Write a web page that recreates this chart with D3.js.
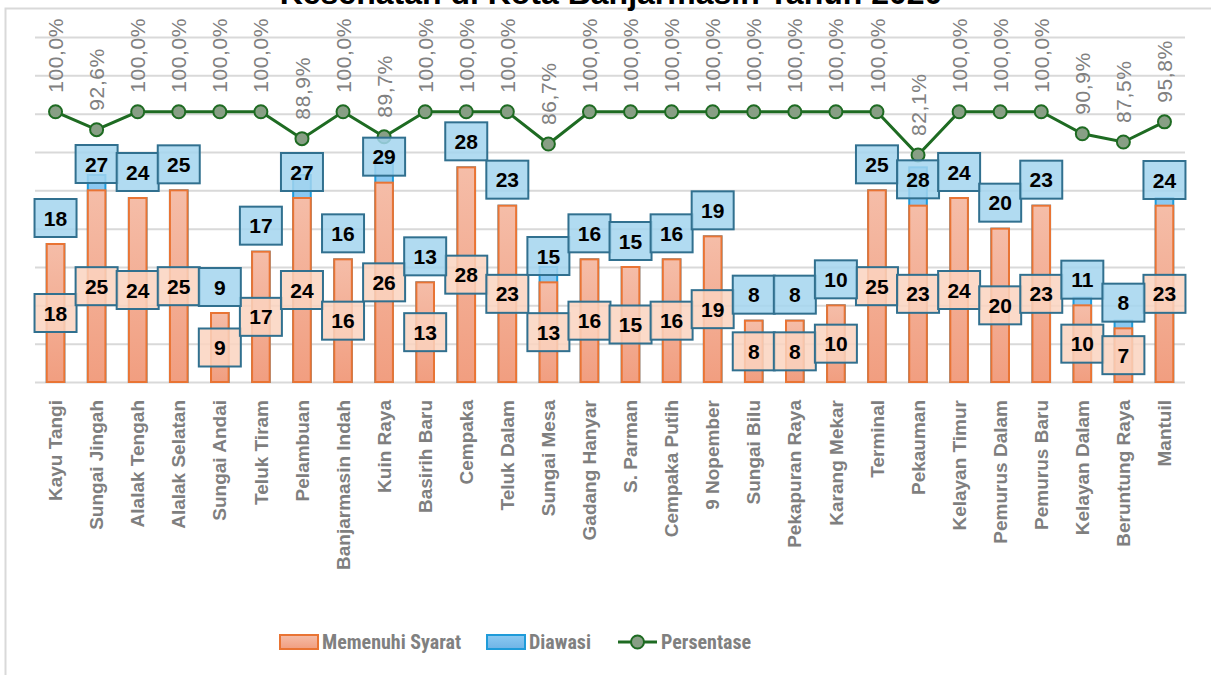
<!DOCTYPE html>
<html>
<head>
<meta charset="utf-8">
<script src="https://cdn.jsdelivr.net/npm/d3@7"></script>
<style>
  body { margin: 0; background: #fff; }
  svg { display: block; }
</style>
</head>
<body>
<svg width="1211" height="675"></svg>
<script>

let categories = ['Kayu Tangi', 'Sungai Jingah', 'Alalak Tengah', 'Alalak Selatan', 'Sungai Andai',
  'Teluk Tiram', 'Pelambuan', 'Banjarmasin Indah', 'Kuin Raya', 'Basirih Baru', 'Cempaka',
  'Teluk Dalam', 'Sungai Mesa', 'Gadang Hanyar', 'S. Parman', 'Cempaka Putih', '9 Nopember',
  'Sungai Bilu', 'Pekapuran Raya', 'Karang Mekar', 'Terminal', 'Pekauman', 'Kelayan Timur',
  'Pemurus Dalam', 'Pemurus Baru', 'Kelayan Dalam', 'Beruntung Raya', 'Mantuil'];

let memenuhiSyarat = [18, 25, 24, 25, 9, 17, 24, 16, 26, 13, 28, 23, 13, 16, 15, 16, 19,
  8, 8, 10, 25, 23, 24, 20, 23, 10, 7, 23];

let diawasi = [18, 27, 24, 25, 9, 17, 27, 16, 29, 13, 28, 23, 15, 16, 15, 16, 19,
  8, 8, 10, 25, 28, 24, 20, 23, 11, 8, 24];

let title = 'Kesehatan di Kota Banjarmasin Tahun 2020';
let legendNames = ['Memenuhi Syarat', 'Diawasi', 'Persentase'];

// label nudges (px) for the Diawasi labels that were moved off the line
let diawasiLabelNudge = [0, 15, 0, 0, 0, 0, 23, 0, 23, 0, 0, 0, 15, 0, 0, 0, 0,
  0, 0, 0, 0, 38, 0, 0, 0, 8, 8, 8];

let data = categories.map(function(c, i) {
  return {
    name: c,
    ok: memenuhiSyarat[i],
    total: diawasi[i],
    pct: memenuhiSyarat[i] / diawasi[i] * 100,
    nudge: diawasiLabelNudge[i]
  };
});

let svg = d3.select('svg');

let defs = svg.append('defs');
let grad = defs.append('linearGradient')
  .attr('id', 'orangeGrad')
  .attr('x1', 0).attr('y1', 0).attr('x2', 0).attr('y2', 1);
grad.append('stop').attr('offset', '0%').attr('stop-color', '#f5bda8');
grad.append('stop').attr('offset', '100%').attr('stop-color', '#f19e80');

let gradB = defs.append('linearGradient')
  .attr('id', 'blueGrad')
  .attr('x1', 0).attr('y1', 0).attr('x2', 0).attr('y2', 1);
gradB.append('stop').attr('offset', '0%').attr('stop-color', '#8ccaf2');
gradB.append('stop').attr('offset', '100%').attr('stop-color', '#6fb3e6');

// chart frame
svg.append('rect')
  .attr('x', 5.5).attr('y', 8.5)
  .attr('width', 1400).attr('height', 900)
  .attr('fill', 'none')
  .attr('stroke', '#d9d9d9')
  .attr('stroke-width', 2);

svg.append('text')
  .attr('x', 611)
  .attr('y', 4)
  .attr('text-anchor', 'middle')
  .style('font-family', 'Liberation Sans, Arial, sans-serif')
  .style('font-weight', 'bold')
  .style('font-size', '32px')
  .attr('fill', '#000')
  .text(title);

let xScale = d3.scaleBand()
  .domain(categories)
  .range([35, 1185])
  .paddingInner(0.571)
  .paddingOuter(0.2855);

let yScale = d3.scaleLinear()
  .domain([0, 45])
  .range([382, 37]);

let pctScale = d3.scaleLinear()
  .domain([-11.7, 130.9])
  .range([382, 37]);

function cx(d) {
  return xScale(d.name) + xScale.bandwidth() / 2;
}

// gridlines
let yAxis = d3.axisLeft(yScale)
  .tickValues(d3.range(0, 46, 5))
  .tickSize(-1150)
  .tickFormat('');

svg.append('g')
  .attr('id', 'yAxisG')
  .attr('transform', 'translate(35,0)')
  .call(yAxis)
  .call(function(g) {
    g.select('.domain').remove();
    g.selectAll('line').attr('stroke', '#d9d9d9').attr('stroke-width', 2);
  });

// category axis
let xAxis = d3.axisBottom(xScale).tickSize(0).tickPadding(0);

svg.append('g')
  .attr('id', 'xAxisG')
  .attr('transform', 'translate(0,382)')
  .call(xAxis)
  .call(function(g) {
    g.select('.domain').remove();
    g.selectAll('text')
      .attr('transform', 'translate(0,18) rotate(-90)')
      .attr('x', 0)
      .attr('y', 0)
      .attr('dy', '0.35em')
      .attr('text-anchor', 'end')
      .attr('fill', '#7f7f7f')
      .style('font-family', 'Liberation Sans, Arial, sans-serif')
      .style('font-weight', 'bold')
      .style('font-size', '19px');
  });

// Diawasi bars (behind)
svg.append('g')
  .selectAll('rect')
  .data(data)
  .join('rect')
  .attr('x', function(d) { return xScale(d.name); })
  .attr('y', function(d) { return yScale(d.total); })
  .attr('width', xScale.bandwidth())
  .attr('height', function(d) { return yScale(0) - yScale(d.total); })
  .attr('fill', 'url(#blueGrad)')
  .attr('stroke', '#1f9bd9')
  .attr('stroke-width', 2);

// Memenuhi Syarat bars
svg.append('g')
  .selectAll('rect')
  .data(data)
  .join('rect')
  .attr('x', function(d) { return xScale(d.name); })
  .attr('y', function(d) { return yScale(d.ok); })
  .attr('width', xScale.bandwidth())
  .attr('height', function(d) { return yScale(0) - yScale(d.ok); })
  .attr('fill', 'url(#orangeGrad)')
  .attr('stroke', '#e97434')
  .attr('stroke-width', 2);

// percentage line
let pctLine = d3.line()
  .x(cx)
  .y(function(d) { return pctScale(d.pct); });

svg.append('path')
  .attr('d', pctLine(data))
  .attr('fill', 'none')
  .attr('stroke', '#1e6b22')
  .attr('stroke-width', 3);

svg.append('g')
  .selectAll('circle')
  .data(data)
  .join('circle')
  .attr('cx', cx)
  .attr('cy', function(d) { return pctScale(d.pct); })
  .attr('r', 6.5)
  .attr('fill', '#889f85')
  .attr('stroke', '#1e6b22')
  .attr('stroke-width', 2);

let pctFormat = function(v) {
  return d3.format('.1f')(v).replace('.', ',') + '%';
};

svg.append('g')
  .selectAll('text')
  .data(data)
  .join('text')
  .attr('transform', function(d) {
    return 'translate(' + cx(d) + ',' + (pctScale(d.pct) - 19) + ') rotate(-90)';
  })
  .attr('dy', '0.36em')
  .attr('fill', '#808080')
  .style('font-family', 'Liberation Sans, Arial, sans-serif')
  .style('font-size', '21px')
  .style('letter-spacing', '0.6px')
  .text(function(d) { return pctFormat(d.pct); });

// data label boxes
function drawLabels(cls, fill, getY, getV) {
  let g = svg.append('g').attr('class', cls)
    .selectAll('g')
    .data(data)
    .join('g')
    .attr('transform', function(d) { return 'translate(' + cx(d) + ',' + getY(d) + ')'; });

  g.append('rect')
    .attr('x', -21).attr('y', -19)
    .attr('width', 42).attr('height', 38)
    .attr('fill', fill)
    .attr('fill-opacity', 0.85)
    .attr('stroke', '#31708f')
    .attr('stroke-width', 2);

  g.append('text')
    .attr('text-anchor', 'middle')
    .attr('dy', '0.36em')
    .attr('fill', '#000')
    .style('font-family', 'Liberation Sans, Arial, sans-serif')
    .style('font-weight', 'bold')
    .style('font-size', '21px')
    .text(getV);
}

drawLabels('okLabels', '#fad3bf',
  function(d) { return yScale(d.ok / 2); },
  function(d) { return d.ok; });

drawLabels('totalLabels', '#a3d5ef',
  function(d) { return yScale(d.total) - 26 + d.nudge; },
  function(d) { return d.total; });

// legend
let legend = svg.append('g').attr('id', 'legend');
let legendFont = "'Liberation Sans Narrow', 'Roboto Condensed', Roboto, sans-serif";

legend.append('rect')
  .attr('x', 280).attr('y', 635).attr('width', 38).attr('height', 14)
  .attr('fill', 'url(#orangeGrad)').attr('stroke', '#e97434').attr('stroke-width', 2);
legend.append('text')
  .attr('x', 322).attr('y', 649)
  .text(legendNames[0]);

legend.append('rect')
  .attr('x', 487).attr('y', 635).attr('width', 38).attr('height', 14)
  .attr('fill', 'url(#blueGrad)').attr('stroke', '#1f9bd9').attr('stroke-width', 2);
legend.append('text')
  .attr('x', 529).attr('y', 649)
  .text(legendNames[1]);

legend.append('line')
  .attr('x1', 618).attr('x2', 657).attr('y1', 642).attr('y2', 642)
  .attr('stroke', '#1e6b22').attr('stroke-width', 3);
legend.append('circle')
  .attr('cx', 637.5).attr('cy', 642).attr('r', 6.5)
  .attr('fill', '#889f85').attr('stroke', '#1e6b22').attr('stroke-width', 2);
legend.append('text')
  .attr('x', 661).attr('y', 649)
  .text(legendNames[2]);

legend.selectAll('text')
  .attr('fill', '#808080')
  .style('font-family', legendFont)
  .style('font-weight', 'bold')
  .style('font-size', '20px');

</script>
</body>
</html>
